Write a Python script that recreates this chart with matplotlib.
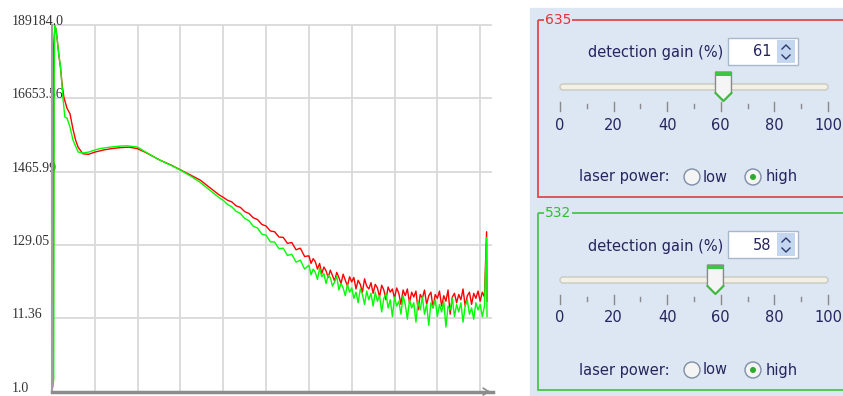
import matplotlib
matplotlib.use('Agg')
import matplotlib.pyplot as plt
from matplotlib.patches import Rectangle, Circle, Polygon, FancyBboxPatch

# histogram counts (log scale), x = bin index
red_x_head = [0, 3, 4, 6, 9, 12, 16, 20, 24, 28, 35, 42, 49, 55, 61, 72, 85, 100, 120, 140,
              160, 180, 199, 217, 235, 252, 280, 301, 325, 346, 370, 390]
red_y_head = [1, 1.5, 100000, 150000, 170000, 120000, 70000, 45000, 25000, 17000, 12000, 10000,
              6000, 4200, 3300, 2650, 2600, 2800, 3000, 3150, 3250, 3300, 3150, 2800, 2450, 2150,
              1800, 1545, 1300, 1110, 850, 680]
red_y_mid = [625, 568, 538, 472, 448, 390, 366, 318, 300, 255, 242, 205, 200, 168, 166, 136,
             140, 110, 116, 88]
red_y_tail = [90, 70, 82, 74, 58, 70, 50, 62, 55, 44,
              56, 47, 39, 52, 44, 36, 49, 40, 33, 45,
              38, 44, 30, 40, 35, 27, 42, 33, 30, 37,
              26, 35, 31, 23, 34, 29, 21, 32, 27, 30,
              22, 31, 26, 18, 29, 24, 30, 19, 27, 23,
              28, 15, 25, 22, 29, 18, 24, 27, 16, 25,
              22, 28, 17, 24, 20, 29, 13, 23, 26, 19,
              25, 21, 30, 17, 24, 27, 18, 26, 22, 28,
              20, 27, 23]
red_spike = [200, 20]

green_x_head = [0, 4, 5, 6, 9, 12, 16, 20, 26, 30, 35, 42, 49, 61, 72, 85, 100, 112, 135, 159,
                175, 199, 217, 235, 252, 280, 301, 325, 346, 370, 390]
green_y_head = [1, 1.5, 30000, 189184, 170000, 120000, 70000, 47000, 15750, 8960, 8680, 6430,
                4180, 2810, 2720, 2800, 3000, 3150, 3300, 3420, 3450, 3320, 2850, 2450, 2150,
                1780, 1530, 1250, 1030, 780, 620]
green_y_mid = [566, 494, 458, 393, 367, 311, 288, 240, 226, 185, 178, 143, 142, 114, 116, 91,
               95, 73, 78, 58]
green_y_tail = [66, 48, 58, 52, 41, 60, 45, 50, 36, 47,
                44, 33, 38, 46, 29, 36, 31, 24, 35, 27,
                31, 22, 27, 19, 30, 25, 18, 28, 21, 26,
                17, 27, 20, 24, 14, 22, 26, 16, 21, 12,
                23, 17, 20, 13, 24, 18, 11, 21, 16, 19,
                10, 20, 15, 23, 13, 18, 9, 19, 16, 21,
                12, 18, 14, 20, 8.5, 17, 15, 22, 12, 18,
                14, 19, 10, 17, 21, 13, 16, 11, 19, 15,
                18, 12, 17]
green_spike = [165, 12]

mid_x = list(range(400, 600, 10))
tail_x = list(range(600, 1011, 5))
spike_x = [1015, 1016]

red_x = red_x_head + mid_x + tail_x + spike_x
red_y = red_y_head + red_y_mid + red_y_tail + red_spike
green_x = green_x_head + mid_x + tail_x + spike_x
green_y = green_y_head + green_y_mid + green_y_tail + green_spike

y_ticks = [1.0, 11.36, 129.05, 1465.99, 16653.56, 189184.0]
y_labels = ['1.0', '11.36', '129.05', '1465.99', '16653.56', '189184.0']
x_grid = [100, 200, 300, 400, 500, 600, 700, 800, 900, 1000]

# control panel settings
channels = ['635', '532']
gains = [61, 58]
box_colors = ['#e04a4a', '#48c848']
title_colors = ['#e03434', '#2fc02f']
slider_ticks = list(range(0, 101, 10))
slider_labels = [0, 20, 40, 60, 80, 100]

W, H = 843, 396
fig = plt.figure(figsize=(W / 100, H / 100), dpi=100, facecolor='white')

# ---- histogram ----
ax = fig.add_axes([52 / W, (H - 391.6) / H, (493 - 52) / W, 366.6 / H], zorder=2)
ax.plot(red_x, red_y, color='#ff0000', lw=1.0)
ax.plot(green_x, green_y, color='#00ff00', lw=1.0)
ax.set_yscale('log')
ax.set_ylim(1.0, 189184.0)
ax.set_xlim(0, 1030)
ax.set_yticks(y_ticks, y_labels)
ax.minorticks_off()
ax.set_xticks([])
for yv in y_ticks[1:]:
    ax.plot([0, 1025], [yv, yv], color='#d9d9d9', lw=1.3, zorder=0, clip_on=False)
for xv in x_grid:
    ax.plot([xv, xv], [1.0, 189184.0], color='#d9d9d9', lw=1.3, zorder=0)
ax.tick_params(axis='y', length=0, pad=28.8)
for lab in ax.get_yticklabels():
    lab.set_ha('left')
    lab.set_va('baseline')
    lab.set_family('Liberation Serif')
    lab.set_fontsize(10)
    lab.set_color('#333333')
for s in ['top', 'right']:
    ax.spines[s].set_visible(False)
ax.spines['left'].set_color('#a0a0a0')
ax.spines['left'].set_linewidth(1.5)
ax.spines['bottom'].set_color('#8c8c8c')
ax.spines['bottom'].set_linewidth(2.5)
ax.annotate('', xy=(1030, 1.0), xytext=(1010, 1.0), annotation_clip=False,
            arrowprops=dict(arrowstyle='->,head_length=0.4,head_width=0.25', color='#8c8c8c', lw=1.2))

# ---- control panel ----
pan = fig.add_axes([0, 0, 1, 1], zorder=0)
pan.set_xlim(0, W)
pan.set_ylim(H, 0)
pan.axis('off')
pan.add_patch(Rectangle((530, 8), 313, 388, color='#dde6f3'))
txt = dict(fontsize=10.5, color='#25255e', va='center', family='DejaVu Sans')

for i in range(2):
    dy = 193 * i
    pan.add_patch(Rectangle((538, 20 + dy), 320, 177, fill=False, ec=box_colors[i], lw=1.3))
    pan.text(545, 20 + dy, channels[i], ha='left', va='center', fontsize=10,
             color=title_colors[i], bbox=dict(fc='#dde6f3', ec='none', pad=0.6))

    pan.text(723, 53 + dy, 'detection gain (%)', ha='right', **txt)
    pan.add_patch(Rectangle((728, 38 + dy), 70, 27, fc='white', ec='#a8b8cc', lw=1))
    pan.add_patch(Rectangle((777, 40 + dy), 18, 23, fc='#c4d6f0', ec='none'))
    pan.plot([782, 786, 790], [49 + dy, 45 + dy, 49 + dy], color='#2a3a6a', lw=1)
    pan.plot([782, 786, 790], [55 + dy, 59 + dy, 55 + dy], color='#2a3a6a', lw=1)
    pan.text(771, 52 + dy, str(gains[i]), ha='right', **txt)

    pan.add_patch(FancyBboxPatch((560, 84 + dy), 268, 6, boxstyle='round,pad=0,rounding_size=3',
                                 fc='#f3f1e6', ec='#c9c9bf', lw=1))
    for v in slider_ticks:
        tx = 560 + 2.68 * v
        if v % 20 == 0:
            pan.plot([tx, tx], [102 + dy, 111 + dy], color='#8a8a8a', lw=1)
        else:
            pan.plot([tx, tx], [104 + dy, 108 + dy], color='#8a8a8a', lw=1)
    for v in slider_labels:
        pan.text(560 + 2.68 * v, 125 + dy, str(v), ha='center', **txt)

    thx = 560 + 2.68 * gains[i]
    pan.add_patch(Polygon([(thx - 8, 72 + dy), (thx + 8, 72 + dy), (thx + 8, 93 + dy),
                           (thx, 101 + dy), (thx - 8, 93 + dy)], closed=True,
                          fc='#f5f5f5', ec='#8a8a8a', lw=1))
    pan.add_patch(Rectangle((thx - 8, 72 + dy), 16, 4, fc='#3ec43e', ec='none'))
    pan.plot([thx - 8, thx, thx + 8], [93 + dy, 101 + dy, 93 + dy], color='#3cba3c', lw=1.5)

    pan.text(670, 177 + dy, 'laser power:', ha='right', **txt)
    pan.add_patch(Circle((692, 177 + dy), 8, fc='#f4f4f4', ec='#7e8ea6', lw=1))
    pan.text(703, 177 + dy, 'low', ha='left', **txt)
    pan.add_patch(Circle((753, 177 + dy), 8, fc='#f4f4f4', ec='#7e8ea6', lw=1))
    pan.add_patch(Circle((753, 177 + dy), 3, fc='#2eaa2e', ec='none'))
    pan.text(766, 177 + dy, 'high', ha='left', **txt)

fig.savefig('out.png', dpi=100)
